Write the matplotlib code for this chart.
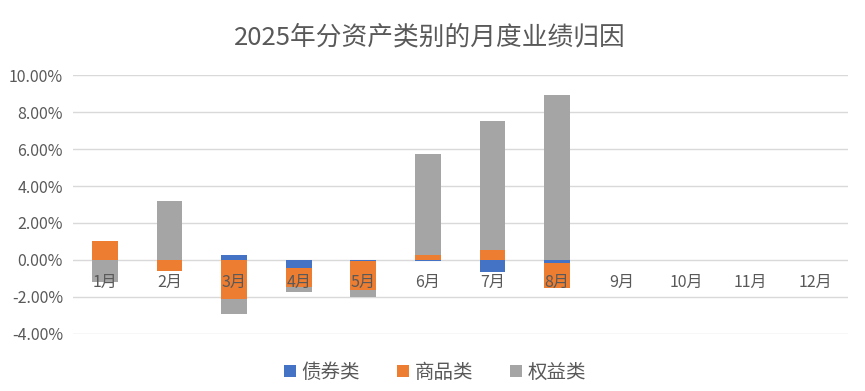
import numpy as np
import matplotlib
matplotlib.use("Agg")
import matplotlib.pyplot as plt
from matplotlib.ticker import FuncFormatter

plt.rcParams['font.family'] = ['Noto Sans CJK SC', 'DejaVu Sans']

months = ['1月', '2月', '3月', '4月', '5月', '6月', '7月', '8月', '9月', '10月', '11月', '12月']
bond = [0.00, 0.00, 0.28, -0.42, -0.05, -0.05, -0.67, -0.18, 0, 0, 0, 0]
commodity = [1.00, -0.60, -2.12, -1.06, -1.58, 0.28, 0.52, -1.35, 0, 0, 0, 0]
equity = [-1.20, 3.17, -0.80, -0.27, -0.35, 5.45, 6.98, 8.92, 0, 0, 0, 0]
series_names = ['债券类', '商品类', '权益类']
colors = ['#4472C4', '#ED7D31', '#A5A5A5']

text_color = '#595959'

fig = plt.figure(figsize=(8.65, 3.91), dpi=100)
ax = fig.add_axes([0.084, 0.146, 0.896, 0.662])

x = np.arange(len(months))
pos_base = np.zeros(len(months))
neg_base = np.zeros(len(months))
handles = []
for vals, name, c in zip([bond, commodity, equity], series_names, colors):
    v = np.array(vals, dtype=float)
    bottom = np.where(v >= 0, pos_base, neg_base)
    h = ax.bar(x, v, width=0.4, bottom=bottom, color=c, label=name, zorder=2)
    handles.append(h)
    pos_base = pos_base + np.where(v > 0, v, 0)
    neg_base = neg_base + np.where(v < 0, v, 0)

ax.set_xlim(-0.5, len(months) - 0.5)
ax.set_ylim(-4, 10)
yticks = np.arange(-4, 10.01, 2)
ax.set_yticks(yticks)
ax.yaxis.set_major_formatter(FuncFormatter(lambda v, p: f'{v:.2f}%'))
for yv in yticks:
    ax.axhline(yv, color='#D9D9D9', linewidth=1, zorder=0)
ax.set_axisbelow(False)

for s in ['top', 'right', 'left', 'bottom']:
    ax.spines[s].set_visible(False)
ax.spines['bottom'].set_position(('data', 0))

ax.set_xticks(x)
ax.set_xticklabels(months)
ax.tick_params(axis='x', length=0, pad=10, labelsize=11.5, labelcolor=text_color)
ax.tick_params(axis='y', length=0, pad=7, labelsize=11.5, labelcolor=text_color)

fig.text(0.497, 0.905, '2025年分资产类别的月度业绩归因', ha='center', va='center',
         fontsize=18.5, color=text_color)

fig.legend(handles=handles, labels=series_names, loc='center', bbox_to_anchor=(0.503, 0.048),
           ncol=3, frameon=False, fontsize=14, labelcolor=text_color,
           handlelength=0.6, handleheight=0.6, handletextpad=0.3, columnspacing=1.9)

fig.savefig('out.png', dpi=100)
